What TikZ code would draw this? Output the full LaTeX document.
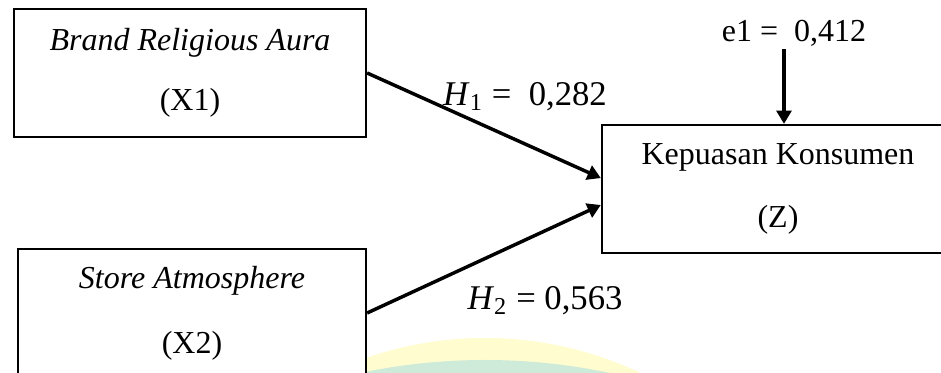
\documentclass[tikz,border=0pt]{standalone}
\usepackage{fontspec}
\setmainfont{Liberation Serif}
\usetikzlibrary{arrows.meta}
\definecolor{wmyellow}{RGB}{255,252,208}
\definecolor{wmgreen}{RGB}{206,235,218}
\newcommand{\hval}[2]{\textit{H}\textsubscript{#1}\ =\ #2}
\tikzset{
  varbox/.style={draw, line width=0.85pt, fill=white, align=center,
    minimum width=132pt, minimum height=48pt, inner sep=0pt},
  link/.style={line width=1.3pt, -{Triangle[length=5pt,width=5.6pt]}}
}

\begin{document}
\begin{tikzpicture}[x=0.375pt, y=-0.375pt, font=\fontsize{12}{14}\selectfont]
  \useasboundingbox (0,0) rectangle (941,373);
  \begin{scope}
    \clip (0,0) rectangle (941,373);
    \fill[wmyellow] (485,700) circle[radius=135.75pt];
    \fill[wmgreen] (485,960) circle[radius=225pt];
    \node[varbox] (x1) at (190,73) {\textit{Brand Religious Aura}\\[8.6pt] (X1)};
    \node[varbox, minimum width=130.5pt] (x2) at (192,313) {\textit{Store Atmosphere}\\[10.5pt] (X2)};
    \node[varbox] (z) at (778,189) {Kepuasan Konsumen\\[9.4pt] (Z)};
  \end{scope}
  \node[inner sep=1pt] (e1) at (794,33) {e1 =~ 0,412};
  \node[font=\fontsize{13}{15}\selectfont] (h1) at (525,97) {\hval{1}{\ 0,282}};
  \node[font=\fontsize{13}{15}\selectfont] (h2) at (545,301) {\hval{2}{0,563}};

  \draw[link] (x1.east) -- ([yshift=4.1pt]z.west);
  \draw[link] (x2.east) -- ([yshift=-6pt]z.west);
  \coordinate (e1foot) at ([xshift=-3.75pt]e1.south);
  \draw[link] (e1foot) -- (e1foot |- z.north);
\end{tikzpicture}
\end{document}
